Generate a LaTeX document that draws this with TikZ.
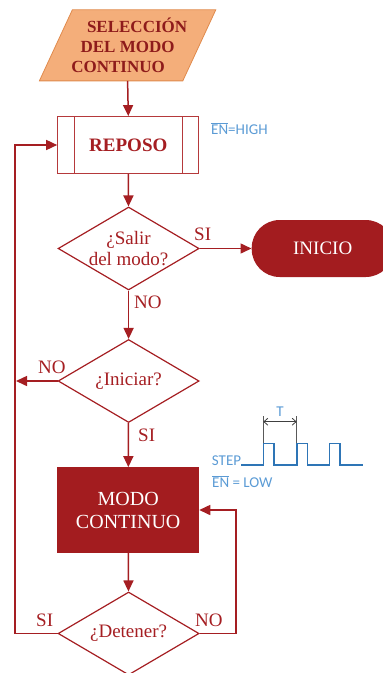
\documentclass[tikz,border=0pt]{standalone}
\usepackage{fontspec}
\setmainfont{Liberation Serif}
\newfontfamily\notefont{Carlito}
\usetikzlibrary{shapes.geometric,arrows.meta,positioning,backgrounds}

\definecolor{flowred}{HTML}{A51E22}
\definecolor{boxred}{HTML}{A31C1F}
\definecolor{edgered}{HTML}{B5393B}
\definecolor{titlered}{HTML}{8E1B1B}
\definecolor{inputfill}{HTML}{F4AE7A}
\definecolor{inputedge}{HTML}{E08A4C}
\definecolor{sigblue}{HTML}{2E75B6}
\definecolor{noteblue}{HTML}{5B9BD5}

\newcommand{\ENbar}{\ensuremath{\overline{\mbox{EN}}}}

\begin{document}
\begin{tikzpicture}[x=1pt,y=-1pt,
    flow/.style={draw=flowred,line width=1.5pt,-{Triangle[length=11pt,width=10pt]}},
    decision/.style={diamond,draw=flowred,line width=1.2pt,aspect=1.7,inner sep=-5pt,
      minimum width=141pt,minimum height=83pt,align=center,text=flowred,
      font=\fontsize{19}{21}\selectfont},
    answer/.style={anchor=base west,inner sep=0pt,text=flowred,font=\fontsize{19}{21}\selectfont},
    note/.style={anchor=base west,inner sep=0pt,text=noteblue,font=\notefont\fontsize{15}{17}\selectfont}]
        \clip (0,0) rectangle (383,673);

        % Entrada
        \node[minimum width=143pt, minimum height=70.7pt, align=center, text=titlered,
          font=\bfseries\fontsize{17}{19.7}\selectfont] (seleccion) at (127.6,45.3)
          {\hspace*{19pt}SELECCIÓN\\DEL MODO\\CONTINUO\hspace*{19pt}};
        \begin{scope}[on background layer]
          \draw[inputedge, fill=inputfill, line width=0.8pt]
            ([xshift=16.5pt]seleccion.north west) -- ([xshift=16.5pt]seleccion.north east)
            -- ([xshift=-16.5pt]seleccion.south east) -- ([xshift=-16.5pt]seleccion.south west) -- cycle;
        \end{scope}

        % Reposo
        \node[draw=edgered, line width=1.2pt, minimum width=141pt, minimum height=56.6pt,
          text=flowred, font=\bfseries\fontsize{19}{21}\selectfont] (reposo) at (128.3,145) {REPOSO};
        \draw[edgered, line width=1.2pt] ([xshift=17.3pt]reposo.north west) -- ([xshift=17.3pt]reposo.south west);
        \draw[edgered, line width=1.2pt] ([xshift=-17.3pt]reposo.north east) -- ([xshift=-17.3pt]reposo.south east);
        \node[note] (enhigh) at (211,134) {\ENbar=HIGH};

        % Decisiones
        \node[decision] (salir) at (128.6,248.5) {¿Salir\\del modo?};
        \node[decision] (iniciar) at (128.6,381) {¿Iniciar?};
        \node[decision] (detener) at (128.6,633.5) {¿Detener?};

        % Fin y modo
        \node[rectangle, rounded corners=28pt, fill=boxred, minimum width=142pt, minimum height=57pt,
          text=white, font=\fontsize{19}{21}\selectfont] (inicio) at (322.7,248.5) {INICIO};
        \node[fill=boxred, minimum width=141.7pt, minimum height=85.4pt, align=center,
          text=white, font=\fontsize{20}{23}\selectfont] (modo) at (128.2,510) {MODO\\CONTINUO};

        % Conectores
        \coordinate (lbus) at (16,381);
        \draw[flow] (seleccion.south) -- (reposo.north);
        \draw[flow] (reposo) -- (salir);
        \draw[flow] (salir) -- (inicio);
        \draw[flow] (salir) -- (iniciar);
        \draw[flow] (iniciar.west) -- (lbus);
        \draw[flow] (iniciar) -- (modo);
        \draw[flow] (modo) -- (detener);
        \draw[flow] (detener.west) -- ++(-42.6,0) |- (reposo.west);
        \draw[flow] (detener.east) -- ++(36.4,0) |- (modo.east);

        % Respuestas
        \node[answer] (siSalir) at (194,240) {SI};
        \node[answer] (noSalir) at (134,308) {NO};
        \node[answer] (noIniciar) at (38,373) {NO};
        \node[answer] (siIniciar) at (138,441) {SI};
        \node[answer] (siDetener) at (36,626) {SI};
        \node[answer] (noDetener) at (195,626) {NO};

        % Senal STEP
        \node[note] (steplbl) at (211.7,465) {STEP};
        \node[note] (enlow) at (212,487) {\ENbar{} = LOW};
        \draw[sigblue, line width=1.6pt] (steplbl.base east) -- (263.3,465) -- (263.3,443.3) -- (274,443.3)
          -- (274,465) -- (296.7,465) -- (296.7,443.3) -- (307.3,443.3) -- (307.3,465) -- (329.3,465)
          -- (329.3,443.3) -- (340,443.3) -- (340,465) -- (362.7,465);
        \draw[black!65, line width=0.8pt] (263.3,443.3) -- (263.3,416) (296.7,443.3) -- (296.7,416);
        \draw[black!75, line width=0.8pt, {Straight Barb[length=4pt,width=7pt]}-{Straight Barb[length=4pt,width=7pt]}]
          (263.3,421.7) -- (296.7,421.7);
        \node[note, anchor=base] (tlbl) at (280,416) {T};
    \end{tikzpicture}
\end{document}
